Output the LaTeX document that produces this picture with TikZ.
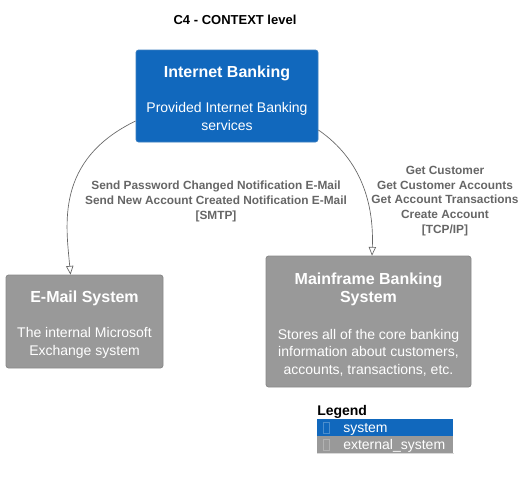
\documentclass[tikz,border=0pt]{standalone}
\usepackage{fontspec}
\setmainfont{Liberation Sans}
\usetikzlibrary{arrows.meta,calc}
\definecolor{sysblue}{HTML}{1168BD}
\definecolor{sysblueb}{HTML}{3C7FC0}
\definecolor{extgray}{HTML}{999999}
\definecolor{extgrayb}{HTML}{8A8A8A}
\definecolor{linegray}{HTML}{666666}
\definecolor{labgray}{HTML}{666666}
\newcommand{\ttl}{\fontsize{12}{13.5}\selectfont\bfseries}
\newcommand{\dsc}{\fontsize{10.5}{13.1}\selectfont}
\tikzset{
  x=0.75pt, y=-0.75pt,
  sysbox/.style={rectangle, rounded corners=2pt, fill=sysblue, draw=sysblueb, line width=0.6pt, text=white, align=center, inner sep=0pt},
  extbox/.style={rectangle, rounded corners=2pt, fill=extgray, draw=extgrayb, line width=0.6pt, text=white, align=center, inner sep=0pt},
  boxtext/.style={text=white, align=center, inner sep=0pt},
  rel/.style={draw=linegray, line width=0.5pt, -{Triangle[open, length=6.5pt, width=5.5pt]}},
  rellabel/.style={font=\fontsize{8.9}{11.1}\selectfont\bfseries, text=labgray, align=center, inner sep=0pt},
  legrow/.style={rectangle, minimum width=102pt, minimum height=12.75pt, inner sep=0pt, anchor=north west},
  legtext/.style={font=\fontsize{10.5}{12}\selectfont, text=white, anchor=west, inner sep=0pt},
  glyph/.style={rectangle, draw, line width=0.4pt, minimum width=4.5pt, minimum height=8pt, inner sep=0pt}
}
\begin{document}
\begin{tikzpicture}
\useasboundingbox (0,0) rectangle (525,479);
\fill[white] (0,0) rectangle (525,479);
\node[font=\fontsize{9.75}{11}\selectfont\bfseries, inner sep=0pt] (title) at (235,20) {C4 - CONTEXT level};

\node[sysbox, minimum width=136.5pt, minimum height=69pt] (ib) at (227,96) {};
\node[boxtext, font=\ttl, anchor=base] (ibt) at (227,77) {Internet Banking};
\node[boxtext, font=\dsc, anchor=base] (ibd) at (227,130) {Provided Internet Banking\\services};

\node[extbox, minimum width=117.75pt, minimum height=69.75pt] (mail) at (84.5,321.5) {};
\node[boxtext, font=\ttl, anchor=base] (mailt) at (84.5,302) {E-Mail System};
\node[boxtext, font=\dsc, anchor=base] (maild) at (84.5,355) {The internal Microsoft\\Exchange system};

\node[extbox, minimum width=153.75pt, minimum height=98.25pt] (mf) at (368.5,321.5) {};
\node[boxtext, font=\ttl, anchor=base] (mft) at (368.5,302) {Mainframe Banking\\System};
\node[boxtext, font=\dsc, anchor=base] (mfd) at (368.5,374) {Stores all of the core banking\\information about customers,\\accounts, transactions, etc.};

\draw[rel] ($(ib.west)+(0,25)$) .. controls (55,160) and (66,225) .. ($(mail.north)+(-14,0)$);
\draw[rel] ($(ib.east)+(0,34)$) .. controls (362,160) and (374,205) .. ($(mf.north)+(3.5,0)$);

\node[rellabel] (l1) at (216,201.5) {Send Password Changed Notification E-Mail\\Send New Account Created Notification E-Mail\\{}[SMTP]};
\node[rellabel] (l2) at (445,201) {Get Customer\\Get Customer Accounts\\Get Account Transactions\\Create Account\\{}[TCP/IP]};

\node[font=\fontsize{10.5}{12}\selectfont\bfseries, anchor=base west, inner sep=0pt] (legend) at (317,415) {Legend};
\node[legrow, fill=sysblue] (lr1) at (317,419) {};
\node[legrow, fill=extgray] (lr2) at (317,436) {};
\draw[draw=black!15, line width=0.6pt] (lr2.south west) -- (lr2.south east);
\node[glyph, draw=sysblue!75!white] (g1) at (326.5,428) {};
\node[glyph, draw=extgray!75!white] (g2) at (326.5,445) {};
\node[legtext, anchor=base west] (t1) at (343,432) {system};
\node[legtext, anchor=base west] (t2) at (343,449) {external\_system};
\end{tikzpicture}
\end{document}
